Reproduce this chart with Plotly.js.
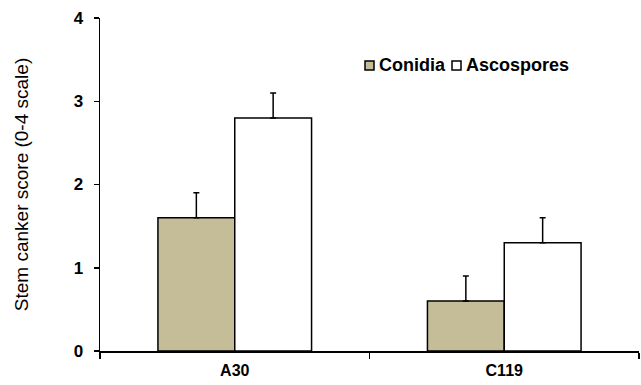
<!DOCTYPE html>
<html><head><meta charset="utf-8">
<script src="https://cdn.plot.ly/plotly-3.0.1.min.js"></script>
<style>html,body{margin:0;padding:0;background:#fff}</style>
</head><body><div id="chart" style="width:641px;height:385px"></div>
<script>
const categories = ["A30", "C119"];
const seriesNames = ["Conidia", "Ascospores"];
const conidia = [1.6, 0.6];
const conidiaErr = [0.3, 0.3];
const ascospores = [2.8, 1.3];
const ascosporesErr = [0.3, 0.3];
const yTicks = [0, 1, 2, 3, 4];

const font = "Liberation Sans, Arial, sans-serif";
const colors = ["#c4bd97", "#ffffff"];
const traces = [
  {type:"bar", name:seriesNames[0], x:categories, y:conidia,
   marker:{color:colors[0], line:{color:"#000", width:1.5}},
   error_y:{type:"data", array:conidiaErr, arrayminus:[0,0], symmetric:false, color:"#000", thickness:1.5, width:3}},
  {type:"bar", name:seriesNames[1], x:categories, y:ascospores,
   marker:{color:colors[1], line:{color:"#000", width:1.5}},
   error_y:{type:"data", array:ascosporesErr, arrayminus:[0,0], symmetric:false, color:"#000", thickness:1.5, width:3}}
];

// custom legend (square right next to text, as in the reference)
const L = 100, W = 539, T = 18, H = 333;
const px = p => (p - L) / W;
const py = p => (T + H - p) / H;
const legendX = [365, 452];
const shapes = [], annotations = [];
seriesNames.forEach((n, i) => {
  shapes.push({type:"rect", xref:"paper", yref:"paper", x0:px(legendX[i]), x1:px(legendX[i] + 9),
               y0:py(70), y1:py(61), fillcolor:colors[i], line:{color:"#000", width:1.5}});
  annotations.push({xref:"paper", yref:"paper", x:px(legendX[i] + 12), y:py(65.5), xanchor:"left", yanchor:"middle",
               showarrow:false, text:n, font:{family:font, size:18, weight:"bold", color:"#000"}});
});

const layout = {
  width:641, height:385,
  margin:{l:L, r:2, t:T, b:385 - T - H},
  paper_bgcolor:"#fff", plot_bgcolor:"#fff",
  barmode:"group", bargap:0.43, bargroupgap:0,
  font:{family:font, color:"#000"},
  showlegend:false,
  shapes:shapes, annotations:annotations,
  xaxis:{type:"category", showline:true, linecolor:"#000", linewidth:1.5, ticks:"outside", tickson:"boundaries",
         ticklen:6, tickcolor:"#000", tickwidth:1.5, showgrid:false, zeroline:false,
         tickfont:{family:font, size:16, weight:"bold"}, ticklabelstandoff:4},
  yaxis:{range:[0,4], tickvals:yTicks, ticktext:yTicks.map(String), showline:true, linecolor:"#000", linewidth:1.5,
         ticks:"outside", ticklen:5, tickcolor:"#000", tickwidth:1.5, showgrid:false, zeroline:false,
         tickfont:{family:font, size:17, weight:"bold"}, ticklabelstandoff:7,
         title:{text:"Stem canker score (0-4 scale)", font:{family:font, size:19}, standoff:40}}
};
Plotly.newPlot("chart", traces, layout, {displayModeBar:false, staticPlot:true});
</script></body></html>
